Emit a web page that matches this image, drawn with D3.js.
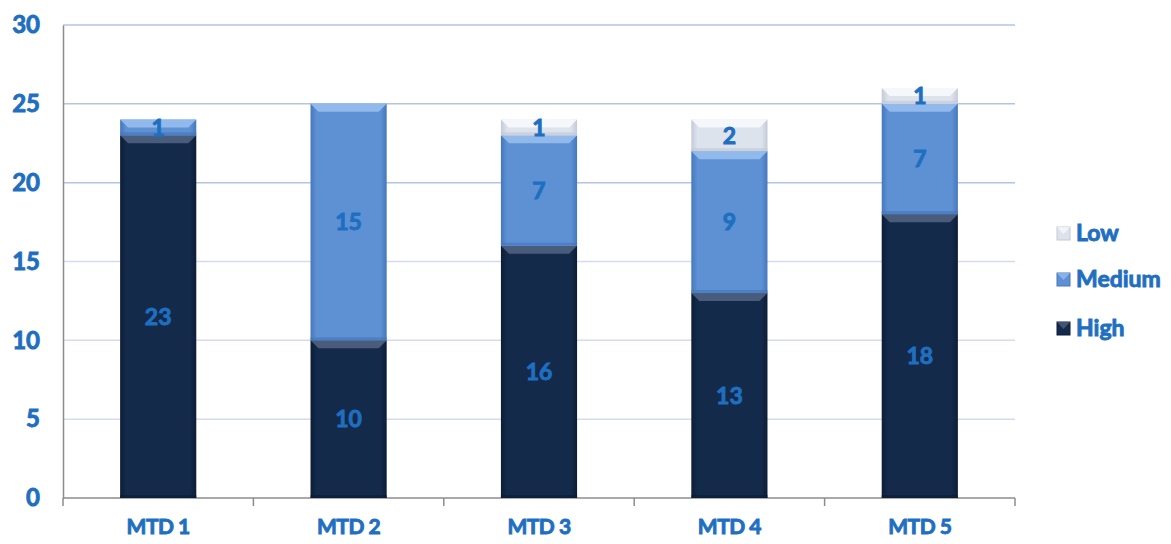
<!DOCTYPE html>
<html><head><meta charset="utf-8">
<script src="https://cdn.jsdelivr.net/npm/d3@7"></script>
<style>body{margin:0;background:#fff;}svg{display:block;} svg text{font-family:Lato,"Open Sans",sans-serif;font-weight:bold;stroke:#1f6fc1;stroke-width:0.9px;}</style>
</head><body><svg id="c" width="1171" height="544"></svg>
<script>
const categories = ["MTD 1","MTD 2","MTD 3","MTD 4","MTD 5"];
const seriesNames = ["High","Medium","Low"];
const high = [23,10,16,13,18];
const medium = [1,15,7,9,7];
const low = [0,0,1,2,1];
const yTicks = [0,5,10,15,20,25,30];

const colors = {High:{base:"#142a4b",side:"#0c1d36",top:"#4c5f7d"},
  Medium:{base:"#5d91d4",side:"#4677bc",top:"#94bcec"},
  Low:{base:"#dde3ec",side:"#c3cad8",top:"#f7f8fb"}};
const labelColor = "#1f6fc1";
const FF = "Lato, 'Open Sans', sans-serif";

const svg = d3.select("#c");
const x = d3.scaleBand().domain(categories).range([63,1015]).paddingInner(0.6).paddingOuter(0.3);
const y = d3.scaleLinear().domain([0,30]).range([498,25]);

const defs = svg.append("defs");
seriesNames.forEach(s=>{
  const g = defs.append("linearGradient").attr("id","g"+s).attr("x1",0).attr("x2",1).attr("y1",0).attr("y2",0);
  g.append("stop").attr("offset","0").attr("stop-color",colors[s].side);
  g.append("stop").attr("offset","0.08").attr("stop-color",colors[s].base);
  g.append("stop").attr("offset","0.92").attr("stop-color",colors[s].base);
  g.append("stop").attr("offset","1").attr("stop-color",colors[s].side);
});

// gridlines
svg.append("g").selectAll("line").data(yTicks.filter(d=>d>0)).join("line")
  .attr("x1",63).attr("x2",1015).attr("y1",d=>y(d)).attr("y2",d=>y(d))
  .attr("stroke",d=>d>=20?"#b4c4e4":"#d6dcee").attr("stroke-width",1.5);

// axes
const yAxis = svg.append("g").attr("transform","translate(63,0)")
  .call(d3.axisLeft(y).tickValues(yTicks).tickSize(0).tickPadding(23));
yAxis.attr("font-family",FF);
yAxis.select(".domain").attr("stroke","#8c8c8c").attr("stroke-width",1.5);
yAxis.selectAll("text").attr("fill",labelColor).attr("font-size",24).attr("font-weight","bold");

const xAxis = svg.append("g").attr("transform","translate(0,498)")
  .call(d3.axisBottom(x).tickSize(0).tickPadding(21));
xAxis.attr("font-family",FF);
xAxis.select(".domain").remove();
xAxis.selectAll("text").attr("fill",labelColor).attr("font-size",21).attr("font-weight","bold").attr("letter-spacing","-0.5");
svg.append("line").attr("x1",63).attr("x2",1015).attr("y1",498).attr("y2",498).attr("stroke","#8c8c8c").attr("stroke-width",1.5);
const bounds = categories.map((c,i)=>63 + x.step()*(i+1));
svg.append("g").selectAll("line").data([63].concat(bounds)).join("line")
  .attr("x1",d=>d).attr("x2",d=>d).attr("y1",498).attr("y2",506).attr("stroke","#8c8c8c").attr("stroke-width",1.5);

// stacks
const rows = categories.map((c,i)=>({cat:c,High:high[i],Medium:medium[i],Low:low[i]}));
const stacked = d3.stack().keys(seriesNames)(rows);
const bw = x.bandwidth();
stacked.forEach(layer=>{
  const s = layer.key;
  const g = svg.append("g");
  layer.forEach(d=>{
    const v = d[1]-d[0];
    if(v<=0) return;
    const x0 = x(d.data.cat), y0 = y(d[1]), y1 = y(d[0]);
    const h = y1-y0;
    g.append("rect").attr("x",x0).attr("y",y0).attr("width",bw).attr("height",h).attr("fill","url(#g"+s+")");
    const bev = Math.min(8,h/2);
    g.append("path").attr("d",`M${x0},${y0}L${x0+bw},${y0}L${x0+bw-bev},${y0+bev}L${x0+bev},${y0+bev}Z`)
      .attr("fill",colors[s].top).attr("opacity",0.95);
    g.append("rect").attr("x",x0).attr("y",y1-3).attr("width",bw).attr("height",3).attr("fill",colors[s].side).attr("opacity",0.7);
    g.append("text").attr("x",x0+bw/2).attr("y",(y0+y1)/2).attr("dy","0.36em")
      .attr("text-anchor","middle").attr("fill",labelColor).attr("font-size",23).attr("font-weight","bold").text(v);
  });
});

// legend
const legendItems = ["Low","Medium","High"];
const lg = svg.append("g");
legendItems.forEach((s,i)=>{
  const yy = [233,279,328][i];
  lg.append("rect").attr("x",1057).attr("y",yy-6).attr("width",13).attr("height",13).attr("fill",colors[s].base).attr("stroke",colors[s].side).attr("stroke-width",1);
  lg.append("path").attr("d",`M1057,${yy-6}L1070,${yy-6}L1063.5,${yy+1}Z`).attr("fill",colors[s].top).attr("opacity",0.8);
  lg.append("text").attr("x",1076).attr("y",yy).attr("dy","0.36em").attr("fill",labelColor)
    .attr("font-size",23).attr("font-weight","bold").text(s);
});
</script></body></html>
